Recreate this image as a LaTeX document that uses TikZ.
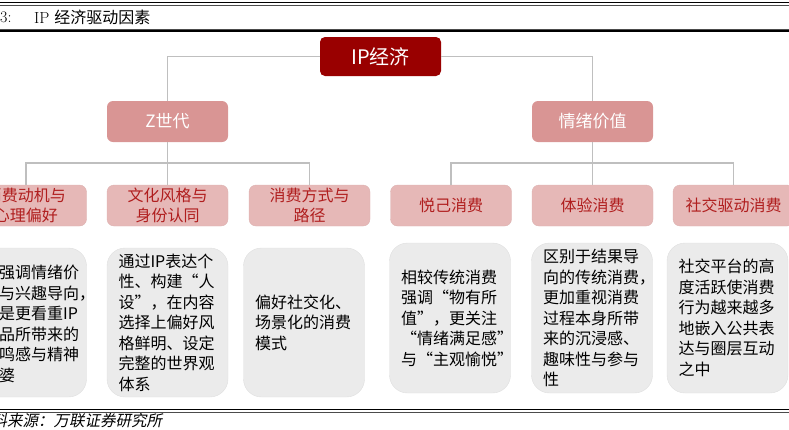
\documentclass[tikz,border=0pt]{standalone}
\usepackage{fontspec}
\newfontfamily\cjk{Noto Sans CJK SC}
\newfontfamily\cjkslant[FakeSlant=0.2]{Noto Sans CJK SC}
\newcommand\wideq[1]{{\addfontfeatures{RawFeature=+fwid}#1}}
\usetikzlibrary{positioning,calc}
\definecolor{ipred}{HTML}{990000}
\definecolor{midpink}{HTML}{D99594}
\definecolor{lowpink}{HTML}{E6B8B7}
\definecolor{lowtext}{HTML}{B01E1E}
\definecolor{boxgray}{HTML}{EBEBEB}
\definecolor{linkgray}{HTML}{BFBFBF}
\tikzset{
  topbox/.style={fill=ipred, text=white, rounded corners=5pt, minimum width=121pt, minimum height=39pt, inner sep=0pt, font=\cjk\fontsize{20}{24}\selectfont},
  midbox/.style={fill=midpink, text=white, rounded corners=6pt, minimum width=121pt, minimum height=41pt, inner sep=0pt, font=\cjk\fontsize{17}{20}\selectfont},
  lowbox/.style={fill=lowpink, draw=lowpink!90!gray, text=lowtext, rounded corners=7pt, minimum width=121pt, minimum height=41pt, inner sep=0pt, align=center, font=\cjk\fontsize{16}{20}\selectfont},
  textbox/.style={fill=boxgray, draw=boxgray!95!black, rounded corners=18pt, minimum width=121pt, inner sep=0pt, text width=98pt, align=left, font=\cjk\fontsize{16}{20.5}\selectfont},
  link/.style={draw=linkgray, line width=1.6pt},
  rule/.style={line width=1.5pt, black},
  thinrule/.style={line width=0.6pt, black!70}
}
\begin{document}
\begin{tikzpicture}[x=1pt, y=-1pt]
  \useasboundingbox (0,0) rectangle (789,429);
  % frame rules
  \draw[rule] (0,2.5) -- (789,2.5);
  \draw[thinrule] (0,4.8) -- (789,4.8);
  \draw[thinrule] (0,28.8) -- (789,28.8);
  \draw[rule] (0,31) -- (789,31);
  \draw[rule] (0,409.5) -- (789,409.5);
  \draw[thinrule] (0,411.8) -- (789,411.8);
  \node[anchor=west, inner sep=0pt, font=\fontsize{16}{18}\selectfont] (fignum) at (0,17) {3:};
  \node[anchor=west, inner sep=0pt, font=\fontsize{16}{18}\selectfont] (title) at (34,17) {IP {\cjk 经济驱动因素}};
  \node[anchor=west, inner sep=0pt, font=\cjkslant\fontsize{15.5}{18}\selectfont] (source) at (-24,421) {资料来源：万联证券研究所};

  \node[topbox] (ip) at (380.5,56.5) {IP经济};
  \node[midbox] (z) at (167.5,121.5) {Z世代};
  \node[midbox] (emo) at (592.5,121.5) {情绪价值};

  \node[lowbox] (m1) at (26,205.5) {消费动机与\\心理偏好};
  \node[lowbox] (m2) at (167.5,205.5) {文化风格与\\身份认同};
  \node[lowbox] (m3) at (309.5,205.5) {消费方式与\\路径};
  \node[lowbox] (m4) at (451,205.5) {悦己消费};
  \node[lowbox] (m5) at (592.5,205.5) {体验消费};
  \node[lowbox] (m6) at (733.5,205.5) {社交驱动消费};

  \node[textbox, minimum height=149pt] (b1) at (26,322.5) {};
  \node[anchor=west, inner sep=0pt, align=left, font=\cjk\fontsize{16}{20.5}\selectfont] (t1) at (-1,324) {强调情绪价\\与兴趣导向，\\是更看重IP\\品所带来的\\鸣感与精神\\婆};
  \node[textbox, minimum height=149pt] (b2) at (167.5,322.5) {通过IP表达个\\性、构建\wideq{“}人\\设\wideq{”}，在内容\\选择上偏好风\\格鲜明、设定\\完整的世界观\\体系};
  \node[textbox, minimum height=149pt] (b3) at (304,322.5) {偏好社交化、\\场景化的消费\\模式};
  \node[textbox, minimum height=150pt] (b4) at (450,318) {相较传统消费\\强调\wideq{“}物有所\\值\wideq{”}，更关注\\\wideq{“}情绪满足感\wideq{”}\\与\wideq{“}主观愉悦\wideq{”}};
  \node[textbox, minimum height=150pt] (b5) at (592,318) {区别于结果导\\向的传统消费，\\更加重视消费\\过程本身所带\\来的沉浸感、\\趣味性与参与\\性};
  \node[textbox, minimum height=150pt] (b6) at (727.5,318) {社交平台的高\\度活跃使消费\\行为越来越多\\地嵌入公共表\\达与圈层互动\\之中};

  \coordinate (zj) at (167.5,163);
  \coordinate (ej) at (592.5,163);
  \draw[link] (ip.west) -| (z.north);
  \draw[link] (ip.east) -| (emo.north);
  \draw[link] (z.south) -- (zj);
  \draw[link] (emo.south) -- (ej);
  \foreach \i in {1,2,3} \draw[link] (zj) -| (m\i.north);
  \foreach \i in {4,5,6} \draw[link] (ej) -| (m\i.north);
\end{tikzpicture}
\end{document}
